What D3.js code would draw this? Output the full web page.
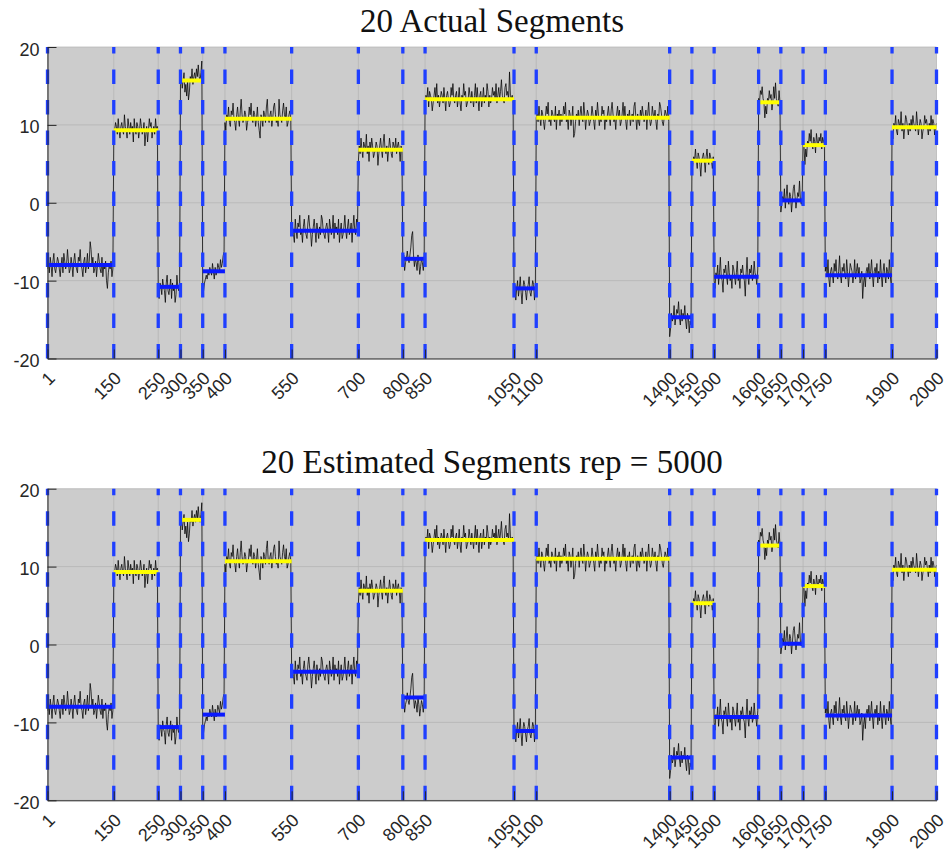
<!DOCTYPE html>
<html><head><meta charset="utf-8">
<script src="https://cdn.jsdelivr.net/npm/d3@7"></script>
<style>body{margin:0;background:#fff}</style>
</head><body>
<svg id="chart" width="949" height="852"></svg>
<script>
// ---- data ----
const breakpoints = [1,150,250,300,350,400,550,700,800,850,1050,1100,1400,1450,1500,1600,1650,1700,1750,1900,2000];
const xTickLabels = ["1","150","250","300","350","400","550","700","800","850","1050","1100","1400","1450","1500","1600","1650","1700","1750","1900","2000"];
const yTicks = [-20,-10,0,10,20];
const yTickLabels = ["-20","-10","0","10","20"];
const actualMeans = [-8.0, 9.3, -10.8, 15.7, -8.8, 10.8, -3.6, 6.8, -7.2, 13.3, -11.0, 10.9, -14.7, 5.4, -9.5, 12.9, 0.3, 7.4, -9.3, 9.7];
const estimatedMeans = [-8.0, 9.3, -10.6, 16.0, -9.0, 10.7, -3.5, 6.9, -6.8, 13.4, -11.1, 11.0, -14.5, 5.3, -9.3, 12.7, 0.1, 7.5, -9.1, 9.6];
// hand-read deviations of the observed signal from its segment level, one letter per sample step
// (a=-3, b=-2.5, c=-2, d=-1.5, e=-1, f=-0.5, g=0, h=+0.5, i=+1, j=+1.5, k=+2, l=+2.5, m=+3, n=+3.5)
const signalDeviations = [
"fheigdhjfegihfdgiejhfgkhefigdhjgfeihkgfdhiegjfhmkgiefhdgjhfeidgfhcaegfhdf",
"dgihfjgehigfkhgejhfighdjgfihegjhfgicfhdgjhieghfjgh",
"fdhgeigfchjfegidhfgcejgfh",
"fhegidfcgbdhgjfhigjhkhgil",
"cbdefegfhgfigehfgihgjhikl",
"fdhgjfeihkgfdhjgeilhfgihdfgjhkgfihegjfdbhgeihfjlgfhiegjkhfgelhgfikhgjefhig",
"ghfdjgeihkfgdhjgfeikhgcfhjgdigehfkjgfehigdjhfgkeighfjdgiefhkgehjfgidhkgfjh",
"dhfjgeihgkfhdigjhefgihcfhjgeikgfhdgjhfeihgjfhigdhg",
"ehdfgigfhjmnhegfdhfcegfdh",
"fhgjeihgdfhjgkfhegihfjgdhigefjhkgfhiegjfdhgkhiefgjhfigehkfjgdhiegjfhgkiehfgjhigkfhjgilhgfjkhignhghf",
"fhdgiegjfcgihfdghjfegihdg",
"ghfjgeihfdgjhkfgeihgfjdhgiehfgjhkfgdihegjbcfhgiehjgfkhdgihefgjhfdigkhegfjhidgfhjgeikhfgdhjgiefhkgjfdhgieghfjkgdhfeigjhfgidhkgefjhgifdhgkjhfegihgjf",
"bdhfgjegihkgeifhgjfdhgcfe",
"dfhgjgeihfcghigdhjgfihgeh",
"fdhgjehlgfcihjgekhfgdjigehkfgdihjgfbhlgeihjfgkhgei",
"hgjikhgcfdhgjhiegkhlhgfjg",
"dfhgjehkgfihdgjkhegihlgfh",
"hgbfdhgjhkgfihejhgihjfihg",
"hjgkfdhigejhkgfhlgeihjgfkhdgjihegkfhjgiefhaegdhigjfhkgdhigjehfkgdhjgeihfkge",
"fdhgjfeihgkfhdgjigehfigjhgfkhegihdfgjhigehfjgihegh"
];
const titles = ["20 Actual Segments", "20 Estimated Segments rep = 5000"];

// ---- build signal ----
const signal = [];
signalDeviations.forEach((codes, i) => {
  const a = breakpoints[i], b = breakpoints[i+1], n = codes.length;
  const last = i === signalDeviations.length - 1;
  for (let j = 0; j < n; j++) {
    const t = last ? j/(n-1) : j/n;
    signal.push({x: a + t*(b-a), y: actualMeans[i] + (codes.charCodeAt(j) - 103) * 0.5});
  }
});

// ---- layout ----
const svg = d3.select("#chart");
const left = 47.5, right = 936.5;
const panels = [
  {top: 47, bottom: 358.5, titleY: 32, means: actualMeans, title: titles[0]},
  {top: 488.7, bottom: 800.3, titleY: 473, means: estimatedMeans, title: titles[1]}
];
const x = d3.scaleLinear().domain([1, 2000]).range([left, right]);

panels.forEach((p, pi) => {
  const y = d3.scaleLinear().domain([-20, 20]).range([p.bottom, p.top]);
  const g = svg.append("g");
  const clipId = "clip" + pi;
  svg.append("clipPath").attr("id", clipId).append("rect")
    .attr("x", left).attr("y", p.top).attr("width", right-left).attr("height", p.bottom-p.top);

  g.append("rect").attr("x", left).attr("y", p.top).attr("width", right-left).attr("height", p.bottom-p.top)
    .attr("fill", "#cccccc");

  // grid
  g.append("g").selectAll("line").data(yTicks).join("line")
    .attr("x1", left).attr("x2", right).attr("y1", d => y(d)).attr("y2", d => y(d))
    .attr("stroke", "#b2b2b2").attr("stroke-width", 0.7);
  g.append("g").selectAll("line").data(breakpoints).join("line")
    .attr("x1", d => x(d)).attr("x2", d => x(d)).attr("y1", p.top).attr("y2", p.bottom)
    .attr("stroke", "#b2b2b2").attr("stroke-width", 0.7);

  // signal
  const line = d3.line().x(d => x(d.x)).y(d => y(d.y));
  g.append("path").datum(signal).attr("d", line).attr("fill", "none")
    .attr("stroke", "#000").attr("stroke-width", 0.75).attr("clip-path", `url(#${clipId})`);

  // segment means
  g.append("g").selectAll("line").data(p.means).join("line")
    .attr("x1", (d, i) => x(breakpoints[i])).attr("x2", (d, i) => x(breakpoints[i+1]))
    .attr("y1", d => y(d)).attr("y2", d => y(d))
    .attr("stroke", d => d > 1 ? "#ffff00" : "#0a1aff").attr("stroke-width", 4);

  // dashed change-point lines
  g.append("g").selectAll("line").data(breakpoints).join("line")
    .attr("x1", d => x(d)).attr("x2", d => x(d)).attr("y1", y(-20)).attr("y2", y(20))
    .attr("stroke", "#1f3fff").attr("stroke-width", 3.3).attr("stroke-dasharray", "14.5,16");

  // axes
  const yAxis = d3.axisLeft(y).tickValues(yTicks).tickFormat((d, i) => yTickLabels[i])
    .tickSizeInner(-9).tickSizeOuter(0).tickPadding(8);
  const ya = g.append("g").attr("transform", `translate(${left},0)`).call(yAxis);
  ya.attr("font-size", null).attr("font-family", null);
  ya.select(".domain").attr("stroke", "#262626").attr("stroke-width", 1);
  ya.selectAll(".tick line").attr("stroke", "#262626");
  ya.selectAll("text").style("font-family", "'Liberation Sans', Arial, sans-serif")
    .style("font-size", "18px").attr("fill", "#262626").attr("dy", "0.45em");

  const xAxis = d3.axisBottom(x).tickValues(breakpoints).tickFormat((d, i) => xTickLabels[i])
    .tickSizeInner(-9).tickSizeOuter(0);
  const xa = g.append("g").attr("transform", `translate(0,${p.bottom})`).call(xAxis);
  xa.attr("font-size", null).attr("font-family", null);
  xa.select(".domain").attr("stroke", "#262626").attr("stroke-width", 1);
  xa.selectAll(".tick line").attr("stroke", "#262626");
  xa.selectAll("text").style("font-family", "'Liberation Sans', Arial, sans-serif")
    .style("font-size", "18px").attr("fill", "#262626")
    .attr("x", null).attr("y", null).attr("dy", null)
    .attr("text-anchor", "end")
    .attr("transform", "translate(8,21) rotate(-45)");

  // title
  svg.append("text").attr("x", (left+right)/2).attr("y", p.titleY)
    .attr("text-anchor", "middle")
    .style("font-family", "'Liberation Serif', 'Times New Roman', serif")
    .style("font-size", "33px").attr("fill", "#111")
    .text(p.title);
});
</script>
</body></html>
